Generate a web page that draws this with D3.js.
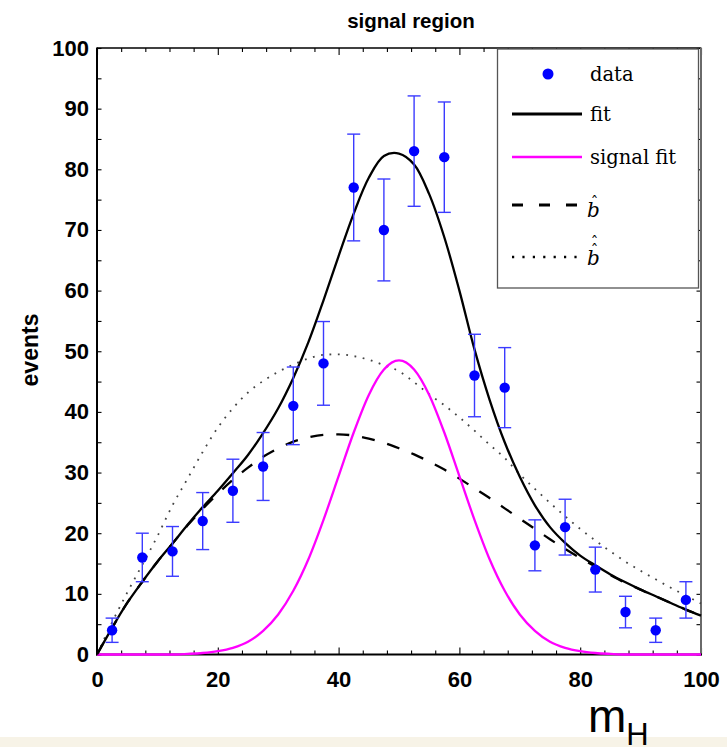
<!DOCTYPE html>
<html>
<head>
<meta charset="utf-8">
<script src="https://cdn.jsdelivr.net/npm/d3@7"></script>
<style>
  html, body { margin: 0; padding: 0; background: #ffffff; }
  svg { display: block; }
</style>
</head>
<body>
<svg id="chart" width="727" height="747"></svg>
<script>
// ---------------- data ----------------
const binCenters = [2.5, 7.5, 12.5, 17.5, 22.5, 27.5, 32.5, 37.5, 42.5, 47.5,
                    52.5, 57.5, 62.5, 67.5, 72.5, 77.5, 82.5, 87.5, 92.5, 97.5];
const counts     = [4, 16, 17, 22, 27, 31, 41, 48, 77, 70,
                    83, 82, 46, 44, 18, 21, 14, 7, 4, 9];
const countErrors = [2, 4, 4.1, 4.7, 5.2, 5.6, 6.4, 6.9, 8.8, 8.4,
                     9.1, 9.1, 6.8, 6.6, 4.2, 4.6, 3.7, 2.6, 2, 3];

const curveX = [0, 2.5, 5, 7.5, 10, 12.5, 15, 17.5, 20, 22.5, 25, 27.5, 30, 32.5, 35, 37.5,
                40, 42.5, 45, 47.5, 50, 52.5, 55, 57.5, 60, 62.5, 65, 67.5, 70, 72.5, 75,
                77.5, 80, 82.5, 85, 87.5, 90, 92.5, 95, 97.5, 100];
const fitValues = [0, 4.4, 8.5, 12.0, 15.3, 18.3, 21.4, 24.3, 27.0, 29.9, 32.9, 36.5, 40.6, 45.6,
                   51.5, 58.4, 65.7, 72.7, 78.6, 82.2, 82.6, 80.8, 75.9, 68.8, 60.0, 50.3, 42.0,
                   35.0, 29.3, 24.6, 21.0, 18.4, 16.3, 14.7, 13.2, 11.9, 10.7, 9.6, 8.5, 7.4, 6.4];
const signalValues = [0, 0, 0, 0, 0, 0, 0.1, 0.25, 0.55, 1.1, 2.1, 3.9, 6.6, 10.5, 15.7, 22.2,
                      29.4, 36.6, 42.8, 47.0, 48.5, 47.0, 42.8, 36.6, 29.4, 22.2, 15.7, 10.5,
                      6.6, 3.9, 2.1, 1.1, 0.55, 0.25, 0.1, 0, 0, 0, 0, 0, 0];
const bHatValues = [0, 4.4, 8.5, 12.0, 15.3, 18.3, 21.3, 24.0, 26.5, 28.8, 30.8, 32.6, 34.0, 35.1,
                    35.8, 36.2, 36.3, 36.1, 35.6, 34.9, 34.0, 33.0, 31.8, 30.5, 29.0, 27.4, 25.8,
                    24.1, 22.4, 20.7, 19.0, 17.4, 15.9, 14.5, 13.1, 11.8, 10.7, 9.6, 8.5, 7.4, 6.4];
const bHatHatValues = [0, 5.3, 10.2, 14.8, 19.5, 24.6, 29.0, 33.4, 37.4, 40.6, 43.2, 45.1, 46.6,
                       47.8, 48.8, 49.4, 49.5, 49.2, 48.6, 47.7, 46.7, 44.9, 42.9, 41.1, 39.1,
                       36.9, 34.6, 32.4, 29.7, 27.3, 25.0, 22.8, 20.7, 18.8, 17.0, 15.3, 13.8,
                       12.4, 11.0, 9.7, 8.4];

const xMajorTicks = [0, 20, 40, 60, 80, 100];
const xMinorTicks = [4, 8, 12, 16, 24, 28, 32, 36, 44, 48, 52, 56, 64, 68, 72, 76, 84, 88, 92, 96];
const yMajorTicks = [0, 10, 20, 30, 40, 50, 60, 70, 80, 90, 100];
const yMinorTicks = [5, 15, 25, 35, 45, 55, 65, 75, 85, 95];

const titleText = "signal region";
const yLabelText = "events";
const legendLabels = ["data", "fit", "signal fit", "b", "b"];

// ---------------- drawing ----------------
(function () {
const svg = d3.select("#chart");
const pLeft = 97, pRight = 701, pTop = 48, pBottom = 654.5;

const x = d3.scaleLinear().domain([0, 100]).range([pLeft, pRight]);
const y = d3.scaleLinear().domain([0, 100]).range([pBottom, pTop]);

svg.append("rect").attr("x", 0).attr("y", 0).attr("width", 727).attr("height", 747).attr("fill", "#ffffff");
svg.append("rect").attr("x", 0).attr("y", 737).attr("width", 727).attr("height", 10).attr("fill", "#f7f3e7");

const tickFont = "'Liberation Sans', Arial, sans-serif";

function styleAxis(g) {
  g.select(".domain").remove();
  g.selectAll(".tick line").attr("stroke", "#000").attr("stroke-width", 1.1);
  g.selectAll(".tick text").attr("fill", "#000").attr("font-family", tickFont)
    .attr("font-size", 22).attr("font-weight", "bold");
}

// bottom
svg.append("g").attr("transform", `translate(0,${pBottom})`)
  .call(d3.axisBottom(x).tickValues(xMajorTicks).tickSize(-7).tickPadding(17).tickFormat(d3.format("d")))
  .call(styleAxis);
svg.append("g").attr("transform", `translate(0,${pBottom})`)
  .call(d3.axisBottom(x).tickValues(xMinorTicks).tickSize(-4).tickFormat(""))
  .call(styleAxis);
// top
svg.append("g").attr("transform", `translate(0,${pTop})`)
  .call(d3.axisTop(x).tickValues(xMajorTicks).tickSize(-7).tickFormat(""))
  .call(styleAxis);
svg.append("g").attr("transform", `translate(0,${pTop})`)
  .call(d3.axisTop(x).tickValues(xMinorTicks).tickSize(-4).tickFormat(""))
  .call(styleAxis);
// left
svg.append("g").attr("transform", `translate(${pLeft},0)`)
  .call(d3.axisLeft(y).tickValues(yMajorTicks).tickSize(-4.5).tickPadding(8).tickFormat(d3.format("d")))
  .call(styleAxis);
svg.append("g").attr("transform", `translate(${pLeft},0)`)
  .call(d3.axisLeft(y).tickValues(yMinorTicks).tickSize(-4.5).tickFormat(""))
  .call(styleAxis);
// right
svg.append("g").attr("transform", `translate(${pRight},0)`)
  .call(d3.axisRight(y).tickValues(yMajorTicks.concat(yMinorTicks)).tickSize(-4.5).tickFormat(""))
  .call(styleAxis);

// frame
svg.append("line").attr("x1", pLeft).attr("x2", pRight).attr("y1", pTop).attr("y2", pTop)
  .attr("stroke", "#000").attr("stroke-width", 1.3);
svg.append("line").attr("x1", pRight).attr("x2", pRight).attr("y1", pTop - 0.6).attr("y2", pBottom + 1)
  .attr("stroke", "#6a6a6a").attr("stroke-width", 2);

// curves
const line = (vals, curve) => d3.line()
  .x((d, i) => x(curveX[i]))
  .y(d => y(d))
  .curve(curve || d3.curveMonotoneX)(vals);

svg.append("path").attr("d", line(bHatHatValues)).attr("fill", "none")
  .attr("stroke", "#444").attr("stroke-width", 1.8).attr("stroke-dasharray", "1.8 6.6");
svg.append("path").attr("d", line(bHatValues)).attr("fill", "none")
  .attr("stroke", "#000").attr("stroke-width", 2.3).attr("stroke-dasharray", "13 13");

// left & bottom axis lines
svg.append("line").attr("x1", pLeft).attr("x2", pLeft).attr("y1", pTop - 0.6).attr("y2", pBottom + 1)
  .attr("stroke", "#000").attr("stroke-width", 2);
svg.append("line").attr("x1", pLeft - 1).attr("x2", pRight + 1).attr("y1", pBottom).attr("y2", pBottom)
  .attr("stroke", "#000").attr("stroke-width", 2);

svg.append("path").attr("d", line(signalValues)).attr("fill", "none")
  .attr("stroke", "#ff00ff").attr("stroke-width", 2.3);
svg.append("path").attr("d", line(fitValues, d3.curveCatmullRom.alpha(0.5))).attr("fill", "none")
  .attr("stroke", "#000").attr("stroke-width", 2.3);

// data with error bars
const pts = svg.append("g");
binCenters.forEach((c, i) => {
  const cx = x(c), lo = y(counts[i] - countErrors[i]), hi = y(counts[i] + countErrors[i]);
  pts.append("line").attr("x1", cx).attr("x2", cx).attr("y1", lo).attr("y2", hi)
    .attr("stroke", "#3b3bff").attr("stroke-width", 1.4);
  [lo, hi].forEach(yy => {
    pts.append("line").attr("x1", cx - 6.5).attr("x2", cx + 6.5).attr("y1", yy).attr("y2", yy)
      .attr("stroke", "#3b3bff").attr("stroke-width", 1.4);
  });
  pts.append("circle").attr("cx", cx).attr("cy", y(counts[i])).attr("r", 5.2).attr("fill", "#0000ff");
});

// title & axis labels
svg.append("text").attr("x", 411).attr("y", 28).attr("text-anchor", "middle")
  .attr("font-family", tickFont).attr("font-size", 20.5).attr("font-weight", "bold").text(titleText);
svg.append("text").attr("transform", "translate(38,350) rotate(-90)").attr("text-anchor", "middle")
  .attr("font-family", tickFont).attr("font-size", 23).attr("font-weight", "bold")
  .attr("fill", "#000").text(yLabelText);
const mh = svg.append("text").attr("x", 588).attr("y", 732).attr("font-family", tickFont).attr("fill", "#000");
mh.append("tspan").attr("font-size", 46).text("m");
mh.append("tspan").attr("font-size", 31).attr("dy", 13).text("H");

// legend
const lg = svg.append("g");
lg.append("rect").attr("x", 497.5).attr("y", 49).attr("width", 201).attr("height", 239)
  .attr("fill", "#fff").attr("stroke", "#555").attr("stroke-width", 1.3);
const serif = "'DejaVu Serif', 'Liberation Serif', serif";
const rows = [74, 114, 157, 205, 257];
const lx1 = 512, lx2 = 582, tx = 590;
lg.append("circle").attr("cx", 548).attr("cy", rows[0]).attr("r", 5.5).attr("fill", "#0000ff");
lg.append("line").attr("x1", lx1).attr("x2", lx2).attr("y1", rows[1]).attr("y2", rows[1])
  .attr("stroke", "#000").attr("stroke-width", 3.2);
lg.append("line").attr("x1", lx1).attr("x2", lx2).attr("y1", rows[2]).attr("y2", rows[2])
  .attr("stroke", "#ff00ff").attr("stroke-width", 2.3);
lg.append("line").attr("x1", lx1).attr("x2", lx2 + 2).attr("y1", rows[3]).attr("y2", rows[3])
  .attr("stroke", "#000").attr("stroke-width", 3).attr("stroke-dasharray", "11 16");
lg.append("line").attr("x1", lx1).attr("x2", lx2).attr("y1", rows[4]).attr("y2", rows[4])
  .attr("stroke", "#000").attr("stroke-width", 2.4).attr("stroke-dasharray", "2.2 8.2");

[0, 1, 2].forEach(i => {
  lg.append("text").attr("x", tx).attr("y", rows[i] + 7).attr("font-family", serif)
    .attr("font-size", 19.5).attr("fill", "#000").text(legendLabels[i]);
});
// b-hat (one text element: b with a circumflex above)
const bh = lg.append("text").attr("x", tx - 3).attr("y", 217).attr("font-family", serif)
  .attr("font-size", 20).attr("fill", "#000");
bh.append("tspan").attr("font-style", "italic").text(legendLabels[3]);
bh.append("tspan").attr("font-size", 15).attr("dx", -9).attr("dy", -10).text("\u02C6");
// b-hat-hat
const bhh = lg.append("text").attr("x", tx - 3).attr("y", 265).attr("font-family", serif)
  .attr("font-size", 20).attr("fill", "#000");
bhh.append("tspan").attr("font-style", "italic").text(legendLabels[4]);
bhh.append("tspan").attr("font-size", 15).attr("dx", -9).attr("dy", -10).text("\u02C6");
bhh.append("tspan").attr("font-size", 15).attr("dx", -7.5).attr("dy", -8).text("\u02C6");
})();
</script>
</body>
</html>
